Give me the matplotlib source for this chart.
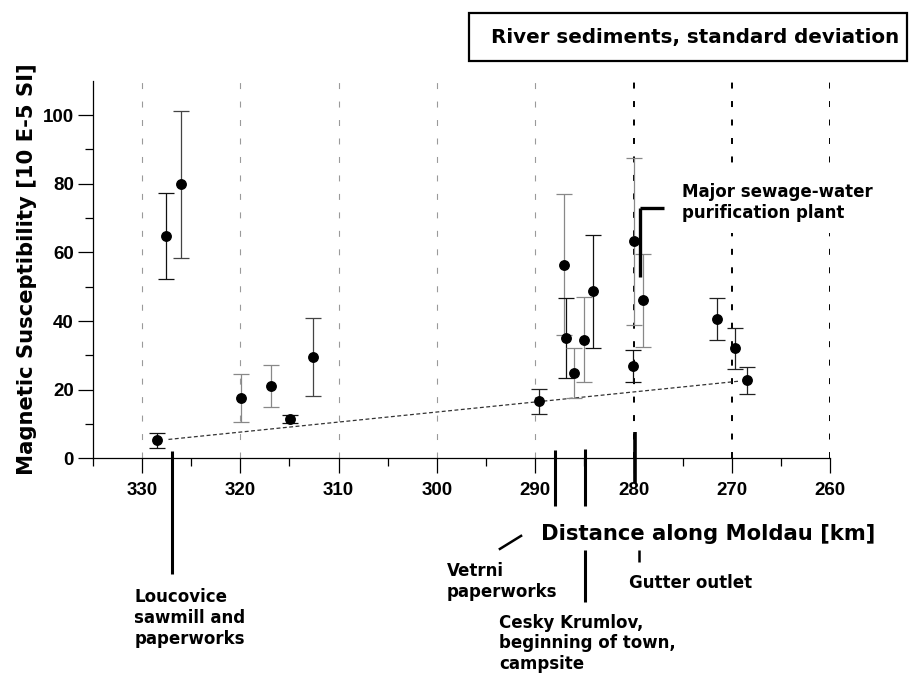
import matplotlib
matplotlib.use('Agg')
import matplotlib.pyplot as plt
from matplotlib.patches import Rectangle

#-------------------------------------------------------------------------------
#DATA

#sample positions along the river (km) and susceptibility mean / std
km = [328.5, 327.5, 326.0, 319.9, 316.9, 314.9, 312.6,
      289.65, 287.1, 286.9, 286.1, 285.1, 284.1, 280.0, 280.1, 279.1,
      271.5, 269.7, 268.5]
chi = [5.3, 64.7, 79.8, 17.6, 21.1, 11.4, 29.6,
       16.6, 56.4, 35.0, 24.9, 34.5, 48.7, 63.2, 26.9, 46.0,
       40.5, 32.1, 22.7]
sd = [2.2, 12.5, 21.5, 6.9, 6.1, 1.1, 11.3,
      3.6, 20.6, 11.7, 7.3, 12.4, 16.5, 24.3, 4.6, 13.6,
      6.1, 6.0, 4.0]
#error bar shade for each sample
ecol = ['#111111', '#111111', '#444444', '#888888', '#888888', '#111111', '#444444',
        '#222222', '#888888', '#111111', '#888888', '#888888', '#111111', '#888888',
        '#111111', '#888888', '#222222', '#222222', '#222222']

#trend line end points
trend_km = [327.3, 269.2]
trend_chi = [5.5, 22.5]

xticks = [330, 320, 310, 300, 290, 280, 270, 260]
yticks = [0, 20, 40, 60, 80, 100]

#marker lines for pollution sources: (km, y from, y to, width)
src_lines = [(326.9, 2.2, -33.7, 2.2),
             (288.0, 2.4, -13.9, 2.2),
             (284.9, 2.7, -13.9, 2.2),
             (284.9, -26.7, -41.8, 2.2),
             (279.9, 7.7, -7.2, 2.6),
             (279.5, -26.7, -30.1, 1.8),
             (279.34, 72.9, 52.9, 2.4)]

#source labels: (km, value, text)
src_text = [(330.78, -46.6, 'Loucovice\nsawmill and\npaperworks'),
            (299.0, -35.8, 'Vetrni\npaperworks'),
            (293.65, -53.9, 'Cesky Krumlov,\nbeginning of town,\ncampsite'),
            (280.43, -36.2, 'Gutter outlet')]
plant_text = (275.07, 74.5, 'Major sewage-water\npurification plant')

#-------------------------------------------------------------------------------
#PLOT

plt.rcParams['lines.scale_dashes'] = False
fig = plt.figure(figsize=(9.09, 6.73), dpi=100)
ax = fig.add_axes([0.102, 0.319, 0.8115, 0.561])

ax.set_xlim(335, 260)
ax.set_ylim(0, 110)

#vertical grid, lighter upstream
for g in xticks:
    if g >= 290:
        ax.axvline(g, color='#9a9a9a', lw=0.8, dashes=(4.3, 9), zorder=0)
    else:
        ax.axvline(g, color='black', lw=1.4, dashes=(4.3, 9), zorder=0)

ax.plot(trend_km, trend_chi, color='#333333', lw=0.9, dashes=(2.8, 1.8), zorder=1)

for x, y, s, c in zip(km, chi, sd, ecol):
    ax.errorbar(x, y, yerr=s, fmt='o', color='black', ms=6.8, ecolor=c,
                elinewidth=0.9, capsize=6, capthick=0.9, zorder=3)

for x, y0, y1, w in src_lines:
    ax.plot([x, x], [y0, y1], color='black', lw=w, clip_on=False, zorder=4,
            solid_capstyle='butt')
#hook of the sewage plant marker
ax.plot([279.34, 276.9], [72.9, 72.9], color='black', lw=2.4, zorder=4,
        solid_capstyle='butt')
#leader to Vetrni label
ax.plot([293.6, 291.45], [-26.4, -22.6], color='black', lw=1.8, clip_on=False)

for x, y, t in src_text:
    ax.text(x, y, t, ha='left', va='center', fontsize=12, fontweight='bold',
            family='DejaVu Sans', linespacing=1.2, clip_on=False)
ax.text(plant_text[0], plant_text[1], plant_text[2], ha='left', va='center',
        fontsize=12, fontweight='bold', family='DejaVu Sans', linespacing=1.2,
        zorder=2, bbox=dict(facecolor='white', edgecolor='none', pad=8))

#axes styling
for s in ['top', 'right']:
    ax.spines[s].set_visible(False)
ax.spines['left'].set_linewidth(0.9)
ax.spines['bottom'].set_linewidth(0.9)
ax.set_xticks(xticks)
ax.set_xticks([335, 325, 315, 305, 295, 285, 275, 265], minor=True)
ax.set_yticks(yticks)
ax.set_yticks([10, 30, 50, 70, 90], minor=True)
ax.tick_params(which='major', length=11, width=0.9, direction='out')
ax.tick_params(which='minor', length=5.5, width=0.9, direction='out')
ax.tick_params(axis='x', pad=6)
ax.tick_params(axis='y', pad=2.5)
for lab in ax.get_xticklabels() + ax.get_yticklabels():
    lab.set_fontfamily('Liberation Sans')
    lab.set_fontweight('bold')
    lab.set_fontsize(13.5)

ax.set_ylabel('Magnetic Susceptibility [10 E-5 SI]', fontsize=15.2,
              fontweight='bold', family='DejaVu Sans')
ax.yaxis.set_label_coords(-0.0755, 0.5)
ax.set_xlabel('Distance along Moldau [km]', fontsize=15.2, fontweight='bold',
              family='DejaVu Sans', va='baseline')
ax.xaxis.set_label_coords(0.834, -0.2164)

#title box
fig.patches.append(Rectangle((0.516, 0.9094), 0.4813, 0.0709, transform=fig.transFigure,
                             fill=False, edgecolor='black', lw=1.6))
fig.text(0.765, 0.945, 'River sediments, standard deviation', ha='center', va='center',
         fontsize=14.3, fontweight='bold', family='DejaVu Sans')

fig.savefig('out.png', dpi=100)
